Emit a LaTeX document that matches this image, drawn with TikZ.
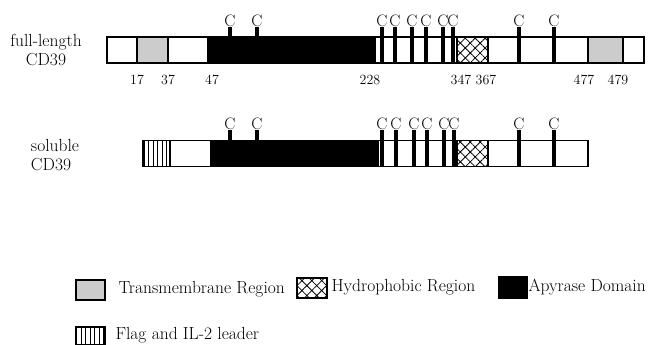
\documentclass[tikz,border=0pt]{standalone}
\usepackage{tikz}
\usetikzlibrary{patterns.meta}
\tikzset{%
    seg/.style={%
        rectangle,
        draw,
        line width=1.5pt,
        inner sep=0pt,
        minimum height=26pt
    },
    tm/.style={seg, fill=black!20},
    hyd/.style={seg, pattern={Hatch[angle=45,distance=7pt,line width=0.8pt]}},
    apy/.style={seg, fill=black},
    flag/.style={seg, pattern={Lines[angle=90,distance=4.5pt,line width=1pt]}},
    cys/.style={%
        anchor=south,
        inner sep=0pt,
        font=\fontsize{16.5}{16.5}\selectfont
    },
    stem/.style={line width=4.5pt},
    resno/.style={font=\fontsize{14}{14}\selectfont},
    lbl/.style={align=center, font=\fontsize{17.5}{19}\selectfont},
    key/.style={anchor=west, font=\fontsize{17.5}{19}\selectfont}
}

\begin{document}
\begin{tikzpicture}[x=1pt,y=-1pt]
    \useasboundingbox (0,0) rectangle (650,345);
    % full-length CD39
    \node[lbl] (fname) at (46,50) {full-length\\CD39};
    \node[seg, minimum width=30pt] (f1) at (122,50) {};
    \node[tm, minimum width=31pt] (f2) at (152.5,50) {};
    \node[seg, minimum width=40pt] (f3) at (188,50) {};
    \node[apy, minimum width=167pt] (f4) at (291.5,50) {};
    \node[seg, minimum width=82pt] (f5) at (416,50) {};
    \node[hyd, minimum width=31pt] (f6) at (472.5,50) {};
    \node[seg, minimum width=100pt] (f7) at (538,50) {};
    \node[tm, minimum width=35pt] (f8) at (605.5,50) {};
    \node[seg, minimum width=21pt] (f9) at (633.5,50) {};
    \node[cys] (fc1) at (230,27) {C}; \draw[stem] (fc1.south) -- (fc1.south |- f4.north);
    \node[cys] (fc2) at (257,27) {C}; \draw[stem] (fc2.south) -- (fc2.south |- f4.north);
    \node[cys] (fc3) at (382,27) {C}; \draw[stem] (fc3.south) -- (fc3.south |- f5.south);
    \node[cys] (fc4) at (395,27) {C}; \draw[stem] (fc4.south) -- (fc4.south |- f5.south);
    \node[cys] (fc5) at (412,27) {C}; \draw[stem] (fc5.south) -- (fc5.south |- f5.south);
    \node[cys] (fc6) at (426,27) {C}; \draw[stem] (fc6.south) -- (fc6.south |- f5.south);
    \node[cys] (fc7) at (443,27) {C}; \draw[stem] (fc7.south) -- (fc7.south |- f5.south);
    \node[cys] (fc8) at (453,27) {C}; \draw[stem] (fc8.south) -- (fc8.south |- f5.south);
    \node[cys] (fc9) at (519,27) {C}; \draw[stem] (fc9.south) -- (fc9.south |- f7.south);
    \node[cys] (fc10) at (554,27) {C}; \draw[stem] (fc10.south) -- (fc10.south |- f7.south);
    \node[resno] (p17) at (137,80) {17};
    \node[resno] (p37) at (168,80) {37};
    \node[resno] (p47) at (212,80) {47};
    \node[resno] (p228) at (370,80) {228};
    \node[resno] (p347) at (461,80) {347};
    \node[resno] (p367) at (486,80) {367};
    \node[resno] (p477) at (584,80) {477};
    \node[resno] (p479) at (618,80) {479};
    % soluble CD39
    \node[lbl, align=left] (sname) at (55,155) {soluble\\CD39};
    \node[flag, minimum width=27pt] (s1) at (156.5,153.5) {};
    \node[seg, minimum width=41pt] (s2) at (190.5,153.5) {};
    \node[apy, minimum width=167pt] (s3) at (294.5,153.5) {};
    \node[seg, minimum width=79pt] (s4) at (417.5,153.5) {};
    \node[hyd, minimum width=31pt] (s5) at (472.5,153.5) {};
    \node[seg, minimum width=100pt] (s6) at (538,153.5) {};
    \node[cys] (sc1) at (230,130) {C}; \draw[stem] (sc1.south) -- (sc1.south |- s3.north);
    \node[cys] (sc2) at (257,130) {C}; \draw[stem] (sc2.south) -- (sc2.south |- s3.north);
    \node[cys] (sc3) at (382,130) {C}; \draw[stem] (sc3.south) -- (sc3.south |- s4.south);
    \node[cys] (sc4) at (396,130) {C}; \draw[stem] (sc4.south) -- (sc4.south |- s4.south);
    \node[cys] (sc5) at (414,130) {C}; \draw[stem] (sc5.south) -- (sc5.south |- s4.south);
    \node[cys] (sc6) at (427,130) {C}; \draw[stem] (sc6.south) -- (sc6.south |- s4.south);
    \node[cys] (sc7) at (444,130) {C}; \draw[stem] (sc7.south) -- (sc7.south |- s4.south);
    \node[cys] (sc8) at (454,130) {C}; \draw[stem] (sc8.south) -- (sc8.south |- s4.south);
    \node[cys] (sc9) at (519,130) {C}; \draw[stem] (sc9.south) -- (sc9.south |- s6.south);
    \node[cys] (sc10) at (554,130) {C}; \draw[stem] (sc10.south) -- (sc10.south |- s6.south);
    % legend
    \node[tm, minimum width=29pt, minimum height=20pt] (ktm) at (90.5,290) {};
    \node[key] (ttm) at (115,289) {Transmembrane Region};
    \node[hyd, minimum width=30pt, minimum height=20pt] (khyd) at (312,288) {};
    \node[key] (thyd) at (328,287) {Hydrophobic Region};
    \node[apy, minimum width=28pt, minimum height=21pt] (kapy) at (513,287.5) {};
    \node[key] (tapy) at (525,287) {Apyrase Domain};
    \node[flag, minimum width=29pt, minimum height=18pt] (kflag) at (90.5,336) {};
    \node[key] (tflag) at (112,335) {Flag and IL-2 leader};
\end{tikzpicture}
\end{document}
